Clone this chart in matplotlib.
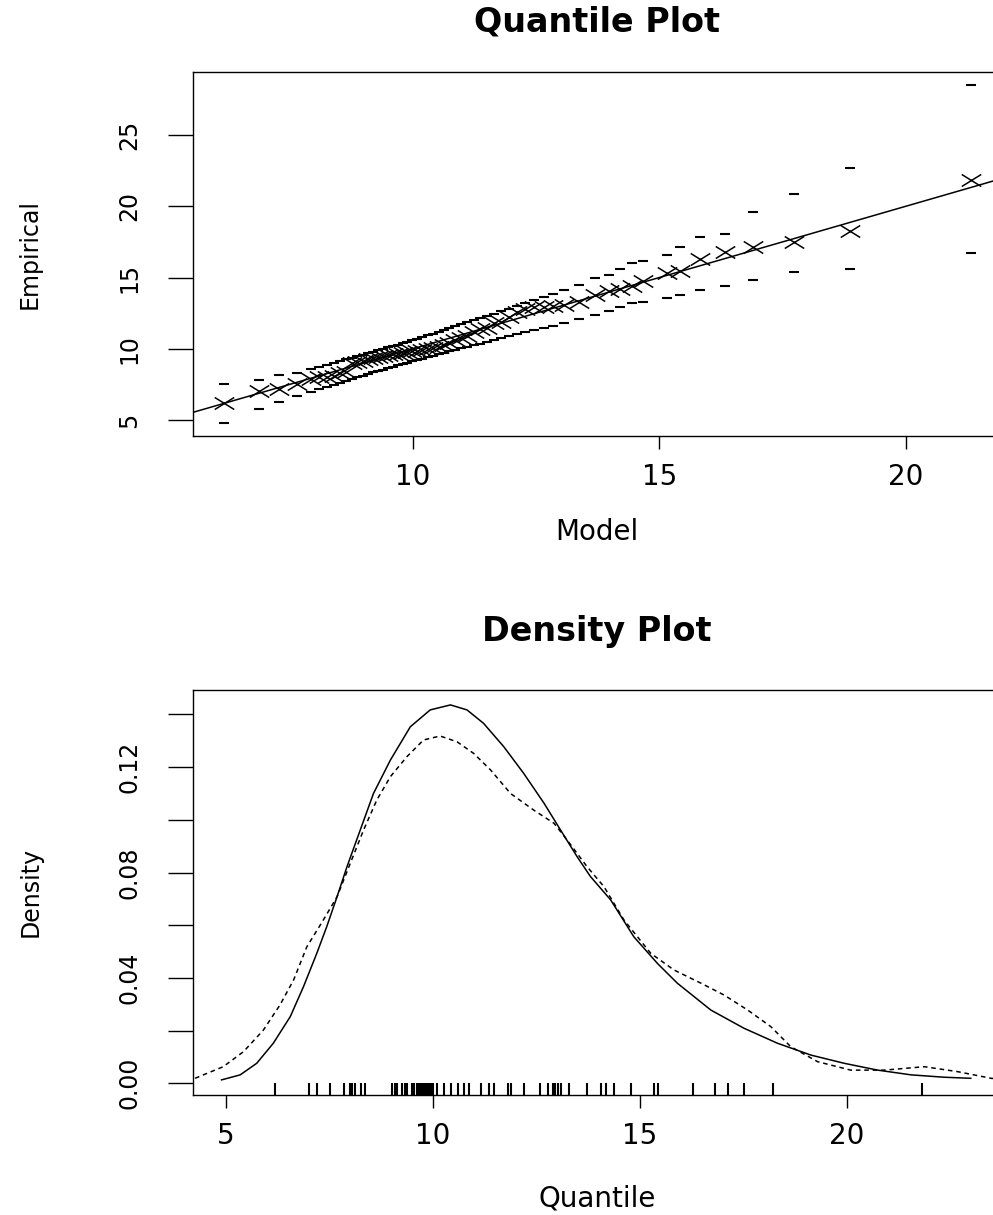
import matplotlib

matplotlib.use("Agg")
import matplotlib.pyplot as plt
from matplotlib.markers import MarkerStyle
from matplotlib.path import Path
from matplotlib.transforms import blended_transform_factory

W, H = 993, 1215

# --- Quantile plot: model quantiles vs empirical (sorted data) + bands ---
model_q = [
    6.16, 6.87, 7.28, 7.65,
    7.93, 8.10, 8.25, 8.39, 8.52, 8.64, 8.76, 8.87, 8.98, 9.09,
    9.19, 9.29, 9.39, 9.49, 9.59, 9.69, 9.79, 9.89, 9.99, 10.09,
    10.19, 10.30, 10.41, 10.52, 10.63, 10.74, 10.86, 10.98, 11.10, 11.23,
    11.36, 11.50, 11.64, 11.79, 11.95, 12.11, 12.28, 12.46, 12.65, 12.85,
    13.06, 13.38,
    13.70, 13.97, 14.20, 14.44, 14.67, 15.15, 15.42, 15.82, 16.33, 16.90,
    17.73, 18.87, 21.32,
]
empirical = [
    6.18, 7.02, 7.21, 7.53,
    7.85, 8.00, 8.05, 8.12, 8.28, 8.36, 9.02, 9.08, 9.14, 9.27,
    9.33, 9.39, 9.50, 9.55, 9.61, 9.66, 9.71, 9.76, 9.81, 9.86,
    9.91, 9.96, 10.02, 10.11, 10.27, 10.44, 10.60, 10.76, 10.88, 11.16,
    11.36, 11.48, 11.81, 11.89, 12.21, 12.59, 12.78, 12.90, 12.96, 13.02,
    13.10, 13.30,
    13.74, 14.06, 14.19, 14.39, 14.79, 15.35, 15.44, 16.28, 16.81, 17.13,
    17.51, 18.23, 21.81,
]
upper_ci = [
    7.53, 7.81, 8.16, 8.32,
    8.58, 8.74, 8.88, 9.01, 9.13, 9.25, 9.36, 9.47, 9.58, 9.69,
    9.79, 9.89, 9.99, 10.09, 10.19, 10.29, 10.40, 10.50, 10.61, 10.72,
    10.83, 10.95, 11.07, 11.19, 11.31, 11.44, 11.57, 11.71, 11.85, 11.99,
    12.14, 12.30, 12.46, 12.63, 12.81, 12.99, 13.19, 13.40, 13.62, 13.86,
    14.11, 14.50,
    14.94, 15.18, 15.58, 16.00, 16.18, 16.60, 17.12, 17.86, 18.05, 19.60,
    20.84, 22.70, 28.50,
]
lower_ci = [
    4.81, 5.77, 6.28, 6.68,
    6.98, 7.16, 7.32, 7.47, 7.61, 7.74, 7.87, 7.99, 8.11, 8.23,
    8.34, 8.44, 8.54, 8.64, 8.74, 8.84, 8.93, 9.03, 9.12, 9.21,
    9.31, 9.41, 9.51, 9.61, 9.71, 9.81, 9.92, 10.03, 10.14, 10.25,
    10.37, 10.49, 10.61, 10.74, 10.87, 11.01, 11.15, 11.30, 11.46, 11.63,
    11.80, 12.08,
    12.37, 12.67, 12.95, 13.19, 13.30, 13.58, 13.77, 14.12, 14.43, 14.82,
    15.36, 15.58, 16.70,
]

# --- Density plot: fitted model density (solid) and kernel estimate (dashed) ---
model_dens_x = [
    4.90, 5.35, 5.75, 6.15, 6.56, 6.88, 7.20, 7.44, 7.69, 7.93, 8.25, 8.57,
    8.98, 9.46, 9.94, 10.43, 10.83, 11.23, 11.72, 12.20, 12.69, 13.09, 13.49,
    13.81, 14.30, 14.86, 15.43, 15.91, 16.72, 17.52, 18.33, 19.14, 19.94,
    20.75, 21.56, 22.36, 23.00,
]
model_dens_y = [
    0.0013, 0.0032, 0.0076, 0.0152, 0.0253, 0.0367, 0.0493, 0.0594, 0.0708,
    0.0822, 0.0961, 0.1100, 0.1227, 0.1353, 0.1417, 0.1436, 0.1417, 0.1366,
    0.1277, 0.1176, 0.1063, 0.0961, 0.0860, 0.0785, 0.0696, 0.0556, 0.0455,
    0.0380, 0.0278, 0.0209, 0.0152, 0.0107, 0.0076, 0.0050, 0.0032, 0.0023,
    0.0019,
]
kde_x = [
    4.26, 4.94, 5.43, 5.91, 6.31, 6.64, 6.96, 7.36, 7.69, 8.01, 8.33, 8.65,
    8.98, 9.38, 9.78, 10.18, 10.59, 10.99, 11.40, 11.88, 12.44, 12.93, 13.25,
    13.73, 14.14, 14.62, 15.27, 15.83, 16.48, 17.04, 17.61, 18.17, 18.65,
    19.30, 20.10, 20.91, 21.88, 22.69, 23.49, 24.00,
]
kde_y = [
    0.0019, 0.0063, 0.0120, 0.0202, 0.0297, 0.0392, 0.0518, 0.0620, 0.0708,
    0.0835, 0.0961, 0.1075, 0.1164, 0.1240, 0.1303, 0.1318, 0.1296, 0.1252,
    0.1189, 0.1100, 0.1037, 0.0987, 0.0923, 0.0822, 0.0746, 0.0620, 0.0493,
    0.0430, 0.0380, 0.0335, 0.0278, 0.0215, 0.0139, 0.0082, 0.0050, 0.0050,
    0.0063, 0.0044, 0.0019, 0.0012,
]

dens_yticks = [0.00, 0.02, 0.04, 0.06, 0.08, 0.10, 0.12, 0.14]
dens_ylabels = ["0.00", "", "0.04", "", "0.08", "", "0.12", ""]

plt.rcParams["font.family"] = ["DejaVu Sans"]


def rect(left, top, right, bottom):
    """Pixel box -> figure fraction [l, b, w, h]."""
    return [left / W, 1 - bottom / H, (right - left) / W, (bottom - top) / H]


def style_axes(ax):
    for sp in ax.spines.values():
        sp.set_linewidth(1.0)
    ax.tick_params(axis="x", length=9.5, width=1.0, pad=10, labelsize=20)
    ax.tick_params(axis="y", length=18, width=1.0, pad=19, labelsize=17,
                   labelrotation=90)
    for lab in ax.get_yticklabels():
        lab.set_va("center")


# wide, flat "x" marker (R pch=4 on a horizontally stretched device)
cross = MarkerStyle(Path([(-1, -0.62), (1, 0.62), (-1, 0.62), (1, -0.62)],
                         [Path.MOVETO, Path.LINETO, Path.MOVETO, Path.LINETO]))

fig = plt.figure(figsize=(W / 100, H / 100), dpi=100)

# ---------------- Quantile plot ----------------
ax1 = fig.add_axes(rect(193, 72, 1001, 436))
ax1.axline((10, 10), slope=1, color="black", lw=1.1)
ax1.plot(model_q, upper_ci, ls="none", marker="_", ms=7, mew=1.5, color="black")
ax1.plot(model_q, lower_ci, ls="none", marker="_", ms=7, mew=1.5, color="black")
ax1.plot(model_q, empirical, ls="none", marker=cross, ms=14, mew=1.1,
         color="black")
ax1.set_xlim(5.54, 21.93)
ax1.set_ylim(3.88, 29.42)
ax1.set_xticks([10, 15, 20])
ax1.set_yticks([5, 10, 15, 20, 25])
style_axes(ax1)

fig.text(597 / W, 1 - 31 / H, "Quantile Plot", ha="center", va="baseline",
         fontsize=24, fontweight="bold")
fig.text(597 / W, 1 - 540 / H, "Model", ha="center", va="baseline", fontsize=20)
fig.text(30 / W, 1 - 254 / H, "Empirical", ha="center", va="center",
         rotation=90, fontsize=17)

# ---------------- Density plot ----------------
ax2 = fig.add_axes(rect(193, 690, 1001, 1095))
ax2.plot(model_dens_x, model_dens_y, color="black", lw=1.1)
ax2.plot(kde_x, kde_y, color="black", lw=1.1, ls=(0, (3, 2.5)))
rug_tr = blended_transform_factory(ax2.transData, ax2.transAxes)
ax2.vlines(empirical, 0, 0.03, transform=rug_tr, color="black", lw=1.5)
ax2.set_xlim(4.21, 23.73)
ax2.set_ylim(-0.00444, 0.14926)
ax2.set_xticks([5, 10, 15, 20])
ax2.set_yticks(dens_yticks)
ax2.set_yticklabels(dens_ylabels)
style_axes(ax2)

fig.text(597 / W, 1 - 641 / H, "Density Plot", ha="center", va="baseline",
         fontsize=24, fontweight="bold")
fig.text(597 / W, 1 - 1207 / H, "Quantile", ha="center", va="baseline",
         fontsize=20)
fig.text(31 / W, 1 - 892 / H, "Density", ha="center", va="center",
         rotation=90, fontsize=17)

fig.savefig("out.png", dpi=100)
